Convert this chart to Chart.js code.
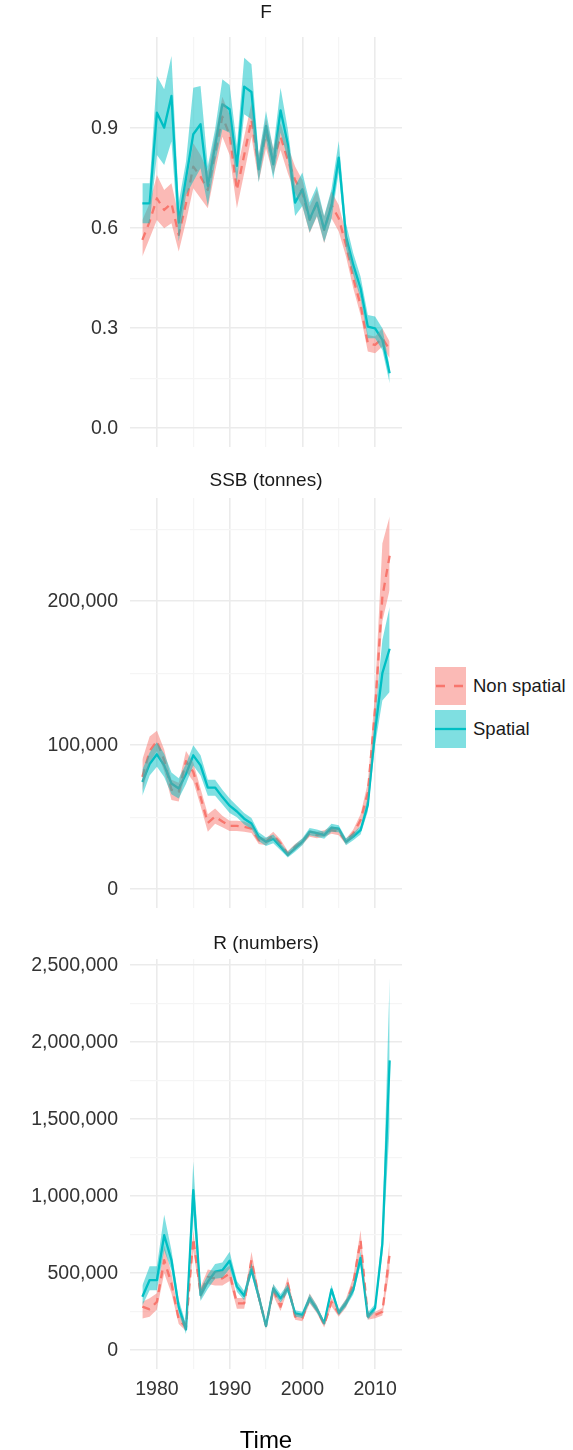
<!DOCTYPE html>
<html>
<head>
<meta charset="utf-8">
<script src="https://cdn.jsdelivr.net/npm/chart.js"></script>
<style>
  html, body { margin: 0; padding: 0; background: #fff; width: 573px; height: 1450px; overflow: hidden; }
  canvas { position: absolute; left: 0; }
  #legend { position: absolute; left: 435px; top: 667px; font-family: "Liberation Sans", Arial, sans-serif; font-size: 18.5px; color: #1a1a1a; }
  .key-row { display: flex; align-items: center; height: 38px; margin-bottom: 5px; }
  .key-row svg { display: block; }
  .key-row span { margin-left: 7px; line-height: 38px; }
</style>
</head>
<body>
<canvas id="panelF" width="410" height="460" style="top:0px"></canvas>
<canvas id="panelSSB" width="410" height="460" style="top:461px"></canvas>
<canvas id="panelR" width="410" height="543" style="top:922px"></canvas>

<div id="legend">
  <div class="key-row">
    <svg width="31" height="38"><rect x="0" y="0" width="31" height="38" fill="rgba(248,118,109,0.5)"/><line x1="1" y1="19" x2="31" y2="19" stroke="#F8766D" stroke-width="2.3" stroke-dasharray="9 9"/></svg>
    <span>Non spatial</span>
  </div>
  <div class="key-row">
    <svg width="31" height="38"><rect x="0" y="0" width="31" height="38" fill="rgba(0,191,196,0.5)"/><line x1="0" y1="19" x2="31" y2="19" stroke="#00BFC4" stroke-width="2.3"/></svg>
    <span>Spatial</span>
  </div>
</div>

<script>
// Assessment years
const years = [1978, 1979, 1980, 1981, 1982, 1983, 1984, 1985, 1986, 1987,
               1988, 1989, 1990, 1991, 1992, 1993, 1994, 1995, 1996, 1997,
               1998, 1999, 2000, 2001, 2002, 2003, 2004, 2005, 2006, 2007,
               2008, 2009, 2010, 2011, 2012];

// Fishing mortality (F)
const fNonSpatial   = [0.565, 0.62, 0.69, 0.655, 0.675, 0.58, 0.675, 0.785, 0.755, 0.715, 0.825, 0.935, 0.88, 0.715, 0.82, 0.925, 0.78, 0.885, 0.80, 0.875, 0.805, 0.745, 0.705, 0.625, 0.675, 0.595, 0.67, 0.63, 0.55, 0.45, 0.37, 0.255, 0.25, 0.27, 0.235];
const fNonSpatialLo = [0.515, 0.57, 0.625, 0.60, 0.615, 0.53, 0.62, 0.72, 0.69, 0.66, 0.77, 0.875, 0.82, 0.66, 0.765, 0.875, 0.74, 0.84, 0.76, 0.835, 0.765, 0.705, 0.665, 0.585, 0.635, 0.555, 0.63, 0.59, 0.515, 0.42, 0.34, 0.23, 0.225, 0.245, 0.21];
const fNonSpatialHi = [0.625, 0.675, 0.76, 0.715, 0.735, 0.635, 0.73, 0.855, 0.82, 0.77, 0.88, 0.995, 0.94, 0.77, 0.875, 0.975, 0.82, 0.93, 0.84, 0.915, 0.845, 0.785, 0.745, 0.665, 0.715, 0.635, 0.71, 0.67, 0.585, 0.48, 0.40, 0.28, 0.275, 0.30, 0.26];
const fSpatial      = [0.675, 0.675, 0.947, 0.902, 0.997, 0.617, 0.75, 0.882, 0.912, 0.727, 0.847, 0.972, 0.957, 0.787, 1.025, 1.009, 0.777, 0.907, 0.792, 0.954, 0.852, 0.677, 0.717, 0.627, 0.677, 0.597, 0.667, 0.812, 0.575, 0.49, 0.42, 0.305, 0.30, 0.265, 0.165];
const fSpatialLo    = [0.615, 0.615, 0.82, 0.79, 0.86, 0.56, 0.70, 0.74, 0.78, 0.667, 0.797, 0.897, 0.887, 0.737, 0.942, 0.927, 0.737, 0.867, 0.747, 0.887, 0.807, 0.637, 0.667, 0.587, 0.637, 0.557, 0.627, 0.767, 0.54, 0.46, 0.39, 0.27, 0.27, 0.235, 0.135];
const fSpatialHi    = [0.735, 0.735, 1.057, 1.017, 1.117, 0.677, 0.80, 1.022, 1.027, 0.787, 0.897, 1.047, 1.03, 0.847, 1.112, 1.092, 0.817, 0.952, 0.837, 1.022, 0.897, 0.727, 0.767, 0.677, 0.727, 0.637, 0.717, 0.862, 0.615, 0.525, 0.455, 0.34, 0.335, 0.30, 0.185];

// Spawning stock biomass (tonnes)
const ssbNonSpatial   = [78000, 96000, 103000, 89500, 69000, 67600, 89000, 81500, 64000, 46000, 50500, 47000, 44000, 44000, 43400, 42000, 34000, 33000, 37600, 32000, 24500, 29500, 33000, 38800, 37600, 38800, 41000, 40000, 33000, 38800, 48000, 67000, 125000, 203000, 231500];
const ssbNonSpatialLo = [68000, 88000, 96000, 82000, 62000, 61000, 82000, 75000, 58000, 40000, 45500, 43000, 40500, 40500, 40000, 39000, 31500, 30500, 35000, 29500, 22500, 27500, 31000, 36500, 35500, 36500, 38500, 37500, 31000, 36000, 44500, 61000, 114000, 186000, 208000];
const ssbNonSpatialHi = [90000, 106000, 110000, 97000, 76000, 74000, 96000, 88000, 70000, 52000, 56000, 51000, 47500, 47500, 47000, 45000, 36500, 35500, 40000, 34500, 26500, 31500, 35000, 41000, 40000, 41000, 43500, 42500, 35000, 41500, 52000, 74000, 137000, 240000, 258800];
const ssbSpatial      = [74500, 87000, 93700, 86000, 73400, 70000, 80000, 93000, 86000, 70600, 70600, 64000, 58000, 54000, 49000, 45700, 36500, 33000, 35000, 29500, 23800, 28400, 33000, 40000, 39000, 37600, 42700, 42000, 33000, 36600, 41000, 58600, 110000, 150000, 167000];
const ssbSpatialLo    = [65000, 79000, 85000, 78000, 66000, 63000, 73000, 86000, 79000, 65000, 65000, 59000, 53000, 50000, 45000, 42000, 33500, 30000, 32000, 27000, 22000, 26000, 30500, 37500, 36500, 35000, 40000, 39500, 30500, 34000, 38000, 54000, 100000, 131000, 137000];
const ssbSpatialHi    = [83000, 95000, 102000, 94000, 81000, 77000, 87000, 100000, 93000, 76000, 76000, 69000, 63000, 58000, 53000, 49500, 39500, 36000, 38000, 32000, 26000, 31000, 35500, 42500, 41500, 40000, 45500, 44500, 35500, 39000, 44000, 64000, 121000, 173000, 196000];

// Recruitment (numbers)
const recNonSpatial   = [283000, 266000, 315000, 585000, 434000, 200000, 150000, 726000, 369000, 477000, 467000, 467000, 499000, 305000, 305000, 585000, 348000, 158000, 391000, 283000, 434000, 218000, 207000, 337000, 266000, 164000, 315000, 240000, 305000, 434000, 715000, 218000, 229000, 250000, 626000];
const recNonSpatialLo = [207000, 218000, 265000, 500000, 370000, 170000, 125000, 650000, 330000, 430000, 420000, 420000, 450000, 270000, 270000, 530000, 315000, 140000, 355000, 255000, 395000, 198000, 188000, 305000, 240000, 148000, 285000, 218000, 278000, 395000, 650000, 198000, 208000, 225000, 518000];
const recNonSpatialHi = [315000, 337000, 370000, 680000, 500000, 235000, 180000, 780000, 410000, 525000, 515000, 515000, 550000, 340000, 340000, 640000, 385000, 178000, 430000, 315000, 475000, 240000, 228000, 370000, 292000, 182000, 345000, 262000, 335000, 475000, 780000, 240000, 250000, 275000, 713000];
const recSpatial      = [348000, 456000, 456000, 747000, 585000, 280000, 135000, 1039000, 358000, 445000, 510000, 520000, 581000, 413000, 354000, 525000, 348000, 158000, 402000, 337000, 402000, 240000, 229000, 337000, 266000, 175000, 395000, 244000, 305000, 391000, 600000, 220000, 275000, 691000, 1882000];
const recSpatialLo    = [290000, 390000, 390000, 650000, 520000, 240000, 105000, 880000, 320000, 400000, 465000, 470000, 530000, 380000, 325000, 490000, 320000, 140000, 375000, 310000, 375000, 220000, 210000, 310000, 245000, 160000, 365000, 225000, 282000, 362000, 553000, 200000, 250000, 620000, 1450000];
const recSpatialHi    = [420000, 545000, 545000, 880000, 650000, 330000, 170000, 1225000, 400000, 490000, 560000, 570000, 640000, 450000, 385000, 565000, 380000, 178000, 430000, 365000, 430000, 260000, 250000, 365000, 290000, 192000, 425000, 265000, 330000, 420000, 645000, 245000, 300000, 770000, 2420000];

// Axis ticks (every second one carries a label)
const xTicks   = [1980, 1985, 1990, 1995, 2000, 2005, 2010];
const fTicks   = [0, 0.15, 0.3, 0.45, 0.6, 0.75, 0.9, 1.05];
const ssbTicks = [0, 50000, 100000, 150000, 200000, 250000];
const recTicks = [0, 250000, 500000, 750000, 1000000, 1250000, 1500000, 1750000, 2000000, 2250000, 2500000];

const FONT = '"Liberation Sans", Arial, Helvetica, sans-serif';
const NS_COLOR = '#F8766D', SP_COLOR = '#00BFC4';
const NS_FILL = 'rgba(248,118,109,0.5)', SP_FILL = 'rgba(0,191,196,0.5)';
const GRID_MAJOR = '#ebebeb', GRID_MINOR = '#f5f5f5';

Chart.defaults.font.family = FONT;

const pts = arr => years.map((yr, i) => ({ x: yr, y: arr[i] }));
const gridColor = c => (c.index % 2 === 0 ? GRID_MAJOR : GRID_MINOR);
const gridWidth = c => (c.index % 2 === 0 ? 1.6 : 1.2);

function band(data, fill, color) {
  return {
    data: pts(data), fill: fill, backgroundColor: color,
    borderColor: 'rgba(0,0,0,0)', borderWidth: 0, pointRadius: 0, tension: 0
  };
}

function buildPanel(id, spec) {
  const datasets = [
    Object.assign(band(spec.nsLo, false, NS_FILL), { order: 2 }),
    Object.assign(band(spec.nsHi, '-1', NS_FILL), { order: 2 }),
    Object.assign(band(spec.spLo, false, SP_FILL), { order: 1 }),
    Object.assign(band(spec.spHi, '-1', SP_FILL), { order: 1 }),
    { label: 'Non spatial', data: pts(spec.ns), borderColor: NS_COLOR, borderWidth: 2.3,
      borderDash: [8, 6], borderJoinStyle: 'round', pointRadius: 0, fill: false, tension: 0, order: 4 },
    { label: 'Spatial', data: pts(spec.sp), borderColor: SP_COLOR, borderWidth: 2.3,
      borderJoinStyle: 'round', pointRadius: 0, fill: false, tension: 0, order: 3 }
  ];

  return new Chart(document.getElementById(id), {
    type: 'line',
    data: { datasets },
    options: {
      responsive: false,
      animation: false,
      devicePixelRatio: 1,
      layout: { padding: { left: 0, right: 8, top: 0, bottom: 0 } },
      plugins: {
        legend: { display: false },
        tooltip: { enabled: false },
        title: {
          display: true, text: spec.title, fullSize: false, color: '#1a1a1a',
          font: { size: 19, weight: 'normal', lineHeight: 1.2 },
          // block height stays 36.9 so every plot area starts at the same offset
          padding: { top: spec.titleTop, bottom: 14.1 - spec.titleTop }
        }
      },
      scales: {
        x: {
          type: 'linear', min: 1976.3, max: 2013.7,
          afterBuildTicks: s => { s.ticks = xTicks.map(v => ({ value: v })); },
          afterFit: s => { s.height = spec.xHeight; s.paddingLeft = 0; s.paddingRight = 0; },
          grid: { color: gridColor, lineWidth: gridWidth, drawTicks: false },
          border: { display: false },
          ticks: {
            display: spec.showX, autoSkip: false, maxRotation: 0, minRotation: 0,
            padding: 9.4, color: '#333333', font: { size: 19.5 },
            callback: (v, i) => (i % 2 === 0 ? String(v) : '')
          },
          title: {
            display: spec.showX, text: 'Time', color: '#000000',
            font: { size: 24 }, padding: { top: 0, bottom: 9.6 }
          }
        },
        y: {
          min: spec.yMin, max: spec.yMax,
          afterBuildTicks: s => { s.ticks = spec.yTicks.map(v => ({ value: v })); },
          afterFit: s => { s.width = 130; s.paddingTop = 0; s.paddingBottom = 0; },
          grid: { color: gridColor, lineWidth: gridWidth, drawTicks: false },
          border: { display: false },
          ticks: {
            autoSkip: false, padding: 12, color: '#333333', font: { size: 19.5 },
            callback: (v, i) => (i % 2 === 0 ? spec.fmt(v) : '')
          }
        }
      }
    }
  });
}

const fmtThousands = v => Math.round(v).toLocaleString('en-US');

buildPanel('panelF', {
  title: 'F', titleTop: 1.6, ns: fNonSpatial, nsLo: fNonSpatialLo, nsHi: fNonSpatialHi,
  sp: fSpatial, spLo: fSpatialLo, spHi: fSpatialHi,
  yMin: -0.0559, yMax: 1.1742, yTicks: fTicks, fmt: v => v.toFixed(1),
  showX: false, xHeight: 13.1
});

buildPanel('panelSSB', {
  title: 'SSB (tonnes)', titleTop: 8.6, ns: ssbNonSpatial, nsLo: ssbNonSpatialLo, nsHi: ssbNonSpatialHi,
  sp: ssbSpatial, spLo: ssbSpatialLo, spHi: ssbSpatialHi,
  yMin: -12940, yMax: 271700, yTicks: ssbTicks, fmt: fmtThousands,
  showX: false, xHeight: 13.1
});

buildPanel('panelR', {
  title: 'R (numbers)', titleTop: 10.6, ns: recNonSpatial, nsLo: recNonSpatialLo, nsHi: recNonSpatialHi,
  sp: recSpatial, spLo: recSpatialLo, spHi: recSpatialHi,
  yMin: -121000, yMax: 2541000, yTicks: recTicks, fmt: fmtThousands,
  showX: true, xHeight: 96.1
});
</script>
</body>
</html>
